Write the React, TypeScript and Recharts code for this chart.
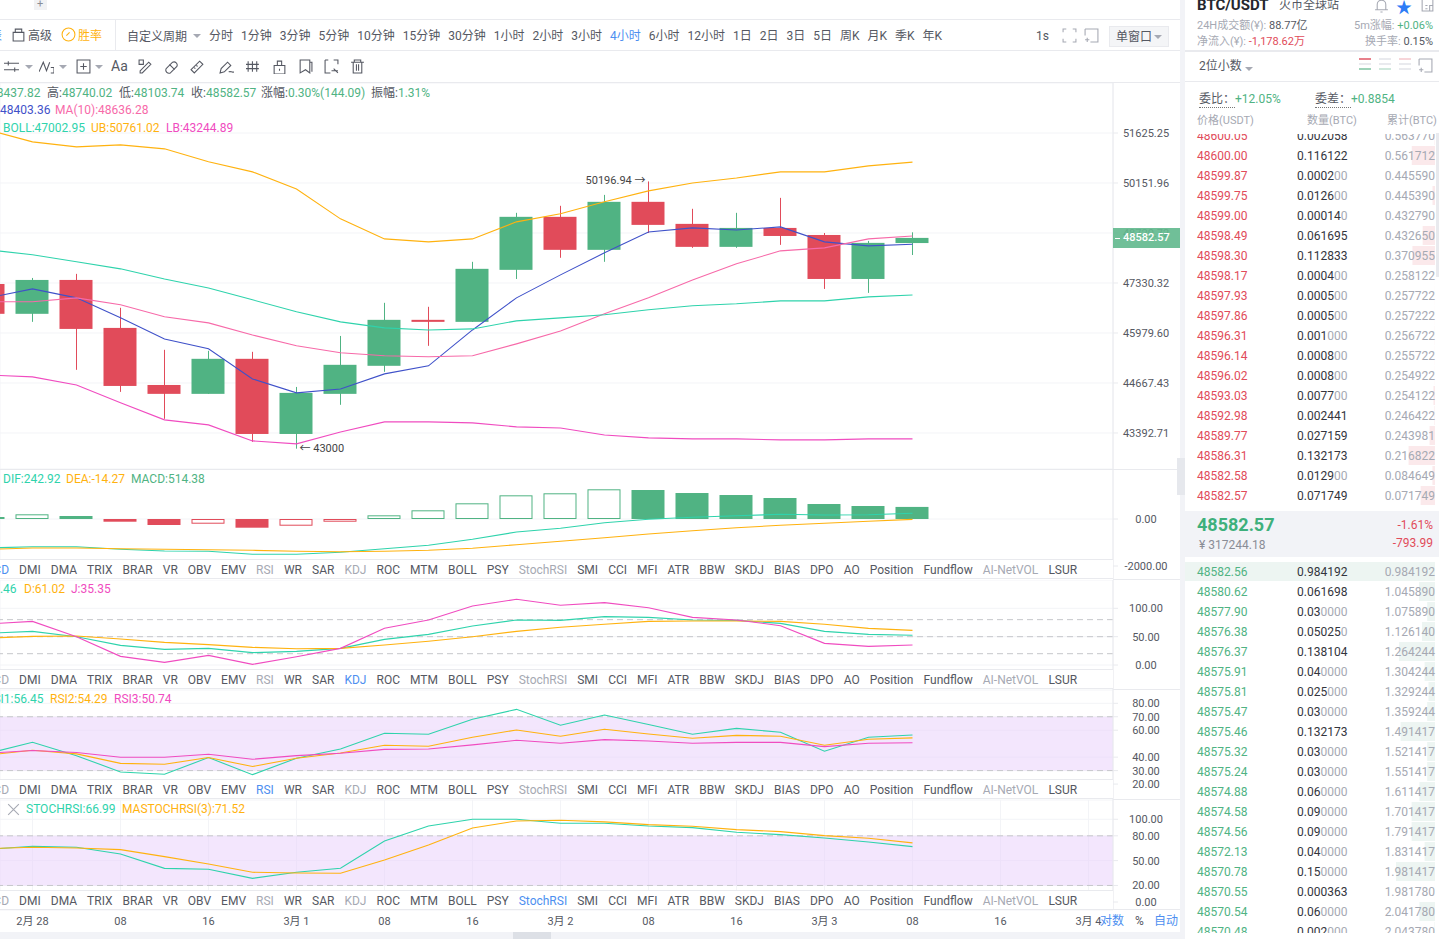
import React from 'react';
import {
  Bar, BarChart, CartesianGrid, ComposedChart, Line, ReferenceArea, ReferenceDot, ReferenceLine, XAxis, YAxis,
} from 'recharts';

// 4h candles, first slot is the one cut off by the left edge
const opens = [47303, 46493, 47414, 46115, 44616, 44387, 45297, 43368, 44387, 45114, 46331, 46277, 47692, 49179, 48248, 49608, 48979, 48331, 48864, 48665, 47441, 48437.82];
const closes = [46493, 47414, 46088, 44591, 44387, 45297, 43368, 44412, 45140, 46331, 46277, 47720, 49179, 48248, 49608, 48950, 48331, 48864, 48637, 47441, 48443, 48582.57];
const highs = [47303, 47469, 47581, 46655, 45534, 45507, 45481, 44565, 45901, 46790, 46682, 47914, 49293, 49494, 49808, 50196.94, 49408, 49293, 49722, 48721, 48498, 48740.02];
const lows = [46493, 46277, 45009, 44438, 43750, 44387, 43170, 43000, 44106, 44957, 45639, 46277, 47441, 48026, 47914, 48721, 48304, 48304, 48387, 47168, 47060, 48103.74];
const ma5 = [46925, 47168, 46925, 46385, 45822, 45560, 44773, 44412, 44514, 44904, 45114, 46061, 46925, 47553, 48165, 48749, 48864, 48807, 48893, 48471, 48359, 48403.36];
const ma10 = [46817, 46817, 46925, 46736, 46412, 46250, 45927, 45639, 45455, 45376, 45350, 45376, 45691, 46034, 46493, 46925, 47414, 47859, 48220, 48304, 48554, 48636.28];
const bollMid = [48248, 48109, 47914, 47720, 47441, 47195, 46871, 46547, 46277, 46115, 46061, 46088, 46304, 46385, 46466, 46601, 46709, 46763, 46844, 46844, 46952, 47002.95];
const bollUp = [51716, 51360, 51213, 51272, 51154, 50771, 50476, 49980, 49122, 48554, 48471, 48554, 49036, 49265, 49608, 49923, 50152, 50299, 50476, 50476, 50653, 50761.02];
const bollLow = [44877, 44825, 44616, 44157, 43724, 43597, 43194, 43120, 43418, 43673, 43673, 43648, 43546, 43520, 43343, 43269, 43244, 43244, 43219, 43219, 43244, 43244.89];

const macd = [85, 200, 128, -115, -255, -200, -370, -285, -115, 157, 370, 668, 1008, 1094, 1264, 1234, 1106, 1021, 894, 638, 553, 514.38];
const dif = [-1234, -1179, -1179, -1289, -1362, -1374, -1502, -1502, -1417, -1264, -1119, -864, -553, -396, -157, -13, 72, 140, 200, 170, 183, 242.92];
const dea = [-1289, -1234, -1234, -1264, -1289, -1306, -1332, -1374, -1391, -1374, -1332, -1247, -1094, -949, -796, -638, -498, -370, -268, -183, -98, -14.27];

const kdjK = [55.9, 59.4, 50, 34.7, 27.6, 29.4, 21.8, 24.1, 29.4, 45.3, 54.1, 68.8, 79.4, 78.8, 85.3, 84.1, 79.4, 78.8, 73.5, 59.4, 54.1, 52.46];
const kdjD = [47.6, 50.6, 51.2, 45.9, 40, 35.9, 31.2, 28.8, 29.4, 35.3, 41.8, 50, 59.4, 66.5, 71.8, 77, 77.6, 77.6, 77, 71.8, 64.7, 61.02];
const kdjJ = [72.4, 77, 50, 15.3, 4.7, 17, 1.2, 14.7, 29.4, 64.7, 79.4, 104, 115.9, 105.3, 110, 101, 84, 79.4, 69.4, 38.2, 32.9, 35.35];

const rsi1 = [42.9, 51, 41.1, 29, 27.3, 39.7, 27, 39.2, 46.1, 57.7, 57, 68.1, 75.5, 63.7, 71.3, 64.2, 57, 61.4, 58.5, 44.4, 54.8, 56.45];
const rsi2 = [41.6, 45.1, 42.4, 35.4, 34.7, 39.7, 33, 39.2, 43.1, 48.8, 48.1, 54.8, 60.2, 55.5, 60.7, 57.2, 54, 56.2, 55.5, 48.8, 53.3, 54.29];
const rsi3 = [42.9, 44.9, 43.4, 39.9, 39.9, 42.1, 38.4, 41.1, 42.9, 45.8, 46.1, 49.1, 52.5, 50.3, 53, 52, 50.3, 51, 51, 47.8, 50.3, 50.74];

const stochRsi = [63.7, 67.3, 66.1, 58.1, 40.7, 39.5, 28.6, 35.9, 40.7, 73.8, 91.9, 100, 100, 95.2, 95.2, 91.9, 89.9, 84.3, 81.5, 77.4, 72.6, 66.99];
const stochMa = [64.5, 66.1, 65.3, 63.3, 54.8, 46, 35.9, 35.1, 34.7, 50.8, 69, 89.5, 98, 98.8, 96.8, 93.5, 91.5, 87.5, 85.1, 80.2, 77, 71.52];

const priceTicks = [51625.25, 50151.96, 48720.72, 47330.32, 45979.6, 44667.43, 43392.71];
const macdTicks = [0, -2000];
const kdjTicks = [100, 50, 0];
const rsiTicks = [80, 70, 60, 40, 30, 20];
const stochTicks = [100, 80, 50, 20, 0];
const timeSlots = [0, 2, 4, 6, 8, 10, 12, 14, 16, 18, 20, 22, 24];
const timeLabels = ['2月 28', '08', '16', '3月 1', '08', '16', '3月 2', '08', '16', '3月 3', '08', '16', '3月 4'];

const indicators = ['MACD', 'DMI', 'DMA', 'TRIX', 'BRAR', 'VR', 'OBV', 'EMV', 'RSI', 'WR', 'SAR', 'KDJ', 'ROC', 'MTM', 'BOLL', 'PSY', 'StochRSI', 'SMI', 'CCI', 'MFI', 'ATR', 'BBW', 'SKDJ', 'BIAS', 'DPO', 'AO', 'Position', 'Fundflow', 'AI-NetVOL', 'LSUR'];
const dimmedIndicators = ['MACD', 'RSI', 'KDJ', 'StochRSI', 'AI-NetVOL'];
const periods = ['分时', '1分钟', '3分钟', '5分钟', '10分钟', '15分钟', '30分钟', '1小时', '2小时', '3小时', '4小时', '6小时', '12小时', '1日', '2日', '3日', '5日', '周K', '月K', '季K', '年K'];

const askPrices = ['48600.05', '48600.00', '48599.87', '48599.75', '48599.00', '48598.49', '48598.30', '48598.17', '48597.93', '48597.86', '48596.31', '48596.14', '48596.02', '48593.03', '48592.98', '48589.77', '48586.31', '48582.58', '48582.57'];
const askSizes = ['0.002058', '0.116122', '0.000200', '0.012600', '0.000140', '0.061695', '0.112833', '0.000400', '0.000500', '0.000500', '0.001000', '0.000800', '0.000800', '0.007700', '0.002441', '0.027159', '0.132173', '0.012900', '0.071749'];
const askTotals = ['0.563770', '0.561712', '0.445590', '0.445390', '0.432790', '0.432650', '0.370955', '0.258122', '0.257722', '0.257222', '0.256722', '0.255722', '0.254922', '0.254122', '0.246422', '0.243981', '0.216822', '0.084649', '0.071749'];
const bidPrices = ['48582.56', '48580.62', '48577.90', '48576.38', '48576.37', '48575.91', '48575.81', '48575.47', '48575.46', '48575.32', '48575.24', '48574.88', '48574.58', '48574.56', '48572.13', '48570.78', '48570.55', '48570.54', '48570.48'];
const bidSizes = ['0.984192', '0.061698', '0.030000', '0.050250', '0.138104', '0.040000', '0.025000', '0.030000', '0.132173', '0.030000', '0.030000', '0.060000', '0.090000', '0.090000', '0.040000', '0.150000', '0.000363', '0.060000', '0.002000'];
const bidTotals = ['0.984192', '1.045890', '1.075890', '1.126140', '1.264244', '1.304244', '1.329244', '1.359244', '1.491417', '1.521417', '1.551417', '1.611417', '1.701417', '1.791417', '1.831417', '1.981417', '1.981780', '2.041780', '2.043780'];

const UP = '#50b383';
const DOWN = '#e14b5a';
const TEAL = '#2fd3ac';
const ORANGE = '#ffb20f';
const MAGENTA = '#f04cc0';
const PINK = '#f76aa9';
const INDIGO = '#3f51c9';
const BLUE = '#4d8ff0';
const INK = '#555862';
const GREY = '#a6a9b3';
const RULE = '#e9eaee';
const PAGE = '#f2f3f7';
const GRID = '#f3f4f7';
const FONT = 'Roboto, "Noto Sans CJK SC", sans-serif';

const PLOT_RIGHT = 1113;
const X_DOMAIN: [number, number] = [-0.7386, 24.557];

const rows = opens.map((open, k) => ({
  i: k - 1,
  open,
  close: closes[k],
  range: [lows[k], highs[k]],
  ma5: ma5[k],
  ma10: ma10[k],
  bollMid: bollMid[k],
  bollUp: bollUp[k],
  bollLow: bollLow[k],
  macd: macd[k],
  rising: k > 0 && macd[k] > macd[k - 1],
  dif: dif[k],
  dea: dea[k],
  k: kdjK[k],
  d: kdjD[k],
  j: kdjJ[k],
  rsi1: rsi1[k],
  rsi2: rsi2[k],
  rsi3: rsi3[k],
  stoch: stochRsi[k],
  stochMa: stochMa[k],
}));

const Candle = (p: any) => {
  const { x, y, width, height, payload } = p;
  const [low, high] = payload.range;
  const span = Math.log(high / low) || 1;
  const at = (v: number) => y + (height * Math.log(high / v)) / span;
  const top = at(Math.max(payload.open, payload.close));
  const bottom = at(Math.min(payload.open, payload.close));
  const color = payload.close >= payload.open ? UP : DOWN;
  const mid = Math.round(x + width / 2) + 0.5;
  return (
    <g>
      <line x1={mid} x2={mid} y1={y} y2={y + height} stroke={color} strokeWidth={1} />
      <rect x={x} y={top} width={width} height={Math.max(bottom - top, 1)} fill={color} />
    </g>
  );
};

const HistBar = (p: any) => {
  const { x, y, width, height, payload } = p;
  const top = Math.min(y, y + height);
  const h = Math.abs(height);
  const color = payload.macd >= 0 ? UP : DOWN;
  if (payload.rising) {
    return <rect x={x + 0.5} y={top + 0.5} width={width - 1} height={Math.max(h - 1, 1)} fill="#fff" stroke={color} strokeWidth={1} />;
  }
  return <rect x={x} y={top} width={width} height={h} fill={color} />;
};

const AxisTick = (p: any) => (
  <text x={1146} y={p.y + 0.5} textAnchor="middle" dominantBaseline="central" fontSize={11} fontFamily={FONT} fill={INK}>
    {Number(p.payload.value).toFixed(2)}
  </text>
);

const noteText = { fontSize: 11, fontFamily: FONT, fill: '#444' };

const trace = (dataKey: string, stroke: string) => (
  <Line key={dataKey} dataKey={dataKey} stroke={stroke} strokeWidth={1.1} dot={false} type="linear" isAnimationActive={false} />
);

const axes = (domain: [number, number], ticks: number[], log?: boolean, showTime?: boolean) => [
  <CartesianGrid key="grid" stroke={GRID} strokeWidth={1} />,
  <XAxis
    key="x"
    dataKey="i"
    type="number"
    domain={X_DOMAIN}
    allowDataOverflow
    ticks={timeSlots}
    interval={0}
    height={showTime ? 22 : 0}
    axisLine={false}
    tickLine={false}
    tick={showTime ? { fontSize: 11, fontFamily: FONT, fill: INK } : false}
    tickFormatter={(v: number) => timeLabels[v / 2]}
    tickMargin={6}
    tickSize={1}
  />,
  <YAxis
    key="y"
    orientation="right"
    width={67}
    type="number"
    scale={log ? 'log' : 'linear'}
    domain={domain}
    allowDataOverflow
    ticks={ticks}
    interval={0}
    tick={<AxisTick />}
    tickSize={5}
    tickLine={{ stroke: RULE }}
    axisLine={{ stroke: RULE }}
  />,
];

const dashed = (y: number) => <ReferenceLine key={y} y={y} stroke="#c6c7cb" strokeDasharray="6 4" />;
const band = (y1: number, y2: number) => <ReferenceArea key="band" y1={y1} y2={y2} fill="#e8cdfb" fillOpacity={0.5} stroke="none" />;

const PriceChart = () => (
  <ComposedChart width={1180} height={386} data={rows} margin={{ top: 0, right: 0, bottom: 0, left: 0 }} style={{ position: 'absolute', left: 0, top: 83 }}>
    {axes([42497, 53142], priceTicks, true)}
    <Bar dataKey="range" barSize={33} shape={<Candle />} isAnimationActive={false} />
    {trace('ma5', INDIGO)}
    {trace('ma10', PINK)}
    {trace('bollMid', TEAL)}
    {trace('bollUp', ORANGE)}
    {trace('bollLow', MAGENTA)}
    <ReferenceDot x={14} y={50196.94} r={0} stroke="none" shape={(p: any) => <text x={p.cx - 3} y={p.cy - 1} textAnchor="end" dominantBaseline="central" {...noteText}>50196.94 →</text>} />
    <ReferenceDot x={6} y={43000} r={0} stroke="none" shape={(p: any) => <text x={p.cx + 3} y={p.cy} dominantBaseline="central" {...noteText}>← 43000</text>} />
  </ComposedChart>
);

const MacdChart = () => (
  <ComposedChart width={1180} height={110} data={rows} margin={{ top: 0, right: 0, bottom: 0, left: 0 }} style={{ position: 'absolute', left: 0, top: 469 }}>
    {axes([-2553, 2128], macdTicks)}
    <Bar dataKey="macd" barSize={33} shape={<HistBar />} isAnimationActive={false} />
    {trace('dif', TEAL)}
    {trace('dea', ORANGE)}
  </ComposedChart>
);

const KdjChart = () => (
  <ComposedChart width={1180} height={110} data={rows} margin={{ top: 0, right: 0, bottom: 0, left: 0 }} style={{ position: 'absolute', left: 0, top: 580 }}>
    {axes([-44, 149.9], kdjTicks)}
    {[80, 50, 20].map(dashed)}
    {trace('k', TEAL)}
    {trace('d', ORANGE)}
    {trace('j', MAGENTA)}
  </ComposedChart>
);

const RsiChart = () => (
  <ComposedChart width={1180} height={110} data={rows} margin={{ top: 0, right: 0, bottom: 0, left: 0 }} style={{ position: 'absolute', left: 0, top: 690 }}>
    {axes([8.16, 89.88], rsiTicks)}
    {band(30, 70)}
    {[70, 30].map(dashed)}
    {trace('rsi1', TEAL)}
    {trace('rsi2', ORANGE)}
    {trace('rsi3', MAGENTA)}
  </ComposedChart>
);

const StochChart = () => (
  <ComposedChart width={1180} height={132} data={rows} margin={{ top: 0, right: 0, bottom: 0, left: 0 }} style={{ position: 'absolute', left: 0, top: 800 }}>
    {axes([-9.67, 123.3], stochTicks, false, true)}
    {band(20, 80)}
    {[80, 20].map(dashed)}
    {trace('stoch', TEAL)}
    {trace('stochMa', ORANGE)}
  </ComposedChart>
);

const T = ({ x, y, c = INK, s = 12, w, r, children }: any) => (
  <div
    style={{
      position: 'absolute',
      top: y - 8,
      lineHeight: '18px',
      fontSize: s,
      color: c,
      fontWeight: w,
      whiteSpace: 'nowrap',
      ...(r !== undefined ? { right: 1439 - r } : { left: x }),
    }}
  >
    {children}
  </div>
);

const Box = ({ x, y, w, h, c }: any) => <div style={{ position: 'absolute', left: x, top: y, width: w, height: h, background: c }} />;

const TabRow = ({ top, active }: { top: number; active: string }) => (
  <div
    style={{
      position: 'absolute', left: 0, top, width: PLOT_RIGHT, height: 20, boxSizing: 'border-box', overflow: 'hidden',
      background: '#fff', borderTop: `1px solid ${RULE}`, borderBottom: `1px solid ${RULE}`,
    }}
  >
    <div style={{ position: 'absolute', left: -25, top: 0, lineHeight: '20px', fontSize: 12, display: 'flex', gap: 10.05, whiteSpace: 'nowrap' }}>
      {indicators.map((name) => (
        <span key={name} style={{ color: name === active ? BLUE : dimmedIndicators.includes(name) ? GREY : INK }}>{name}</span>
      ))}
    </div>
  </div>
);

const iconPaths = [
  'M0 4h14M0 10h14M4 2v4M10 8v4',
  'M0 12L4 3l3 8 3-8M11 8h3v5h-3',
  'M1 1h12v12H1zM7 4v6M4 7h6',
];
const drawPaths = [
  'M2 11L10 3l2 2-8 8H2zM1 1h4v4H1z',
  'M2 9l6-6a3 3 0 014 4l-6 6a3 3 0 01-4-4zM5 5l5 5',
  'M1 10L9 2l3 3-8 8zM4 8l1 1M6 6l1 1',
  'M1 13l1-4 6-6 3 3-6 6zM9 12c2-1 3 1 5 0',
  'M2 2v10M6 2v10M10 2v10M0 5h12M0 9h12',
  'M2 6h10v8H2zM5 6V2h4v4M7 9v2',
  'M2 1h9v12l-4-3-5 3zM11 3h2v9',
  'M1 1h3M9 1h4v4M1 1v12h5M9 9l4 4M7 11h6',
  'M1 3h12M4 3V1h6v2M3 3v10h8V3M6 5v6M8 5v6',
];

const Icon = ({ x, y, d, c = INK }: any) => (
  <svg width={15} height={15} viewBox="0 0 14 14" style={{ position: 'absolute', left: x, top: y }}>
    <path d={d} fill="none" stroke={c} strokeWidth={1} />
  </svg>
);

const Caret = ({ x, y }: any) => <div style={{ position: 'absolute', left: x, top: y, width: 0, height: 0, borderLeft: '4px solid transparent', borderRight: '4px solid transparent', borderTop: `4px solid ${GREY}` }} />;

const Toolbar = () => (
  <>
    <Box x={34} y={0} w={13} h={10} c="#f1f2f4" />
    <T x={37} y={3} c="#8a8d96" s={11}>+</T>
    <Box x={0} y={19} w={1180} h={1} c={RULE} />
    <Box x={0} y={50} w={1180} h={1} c={RULE} />
    <Box x={0} y={82} w={1180} h={1} c={RULE} />
    <Box x={115} y={20} w={1} h={30} c={RULE} />
    <T x={-10} y={35} c={BLUE}>表</T>
    <Icon x={11} y={27} d="M2 5h10v8H2zM4 5V2h6v3" />
    <T x={28} y={35}>高级</T>
    <Icon x={61} y={27} d="M7 1a6 6 0 100 12A6 6 0 007 1zM5 8l3-3" c={ORANGE} />
    <T x={78} y={35} c={ORANGE}>胜率</T>
    <T x={127} y={36}>自定义周期</T>
    <Caret x={193} y={34} />
    <div style={{ position: 'absolute', left: 209, top: 27, lineHeight: '18px', fontSize: 12, display: 'flex', gap: 8, whiteSpace: 'nowrap', color: INK }}>
      {periods.map((p) => <span key={p} style={{ color: p === '4小时' ? BLUE : INK }}>{p}</span>)}
    </div>
    <T x={1036} y={35}>1s</T>
    <Icon x={1062} y={28} d="M1 4V1h3M10 1h3v3M13 10v3h-3M4 13H1v-3" c={GREY} />
    <Icon x={1084} y={28} d="M1 1h12v12H6M1 1v6M1 11h4M3 9v4" c={GREY} />
    <div style={{ position: 'absolute', left: 1109, top: 26, width: 60, height: 21, boxSizing: 'border-box', background: '#f4f5f7', border: `1px solid ${RULE}` }} />
    <T x={1116} y={36}>单窗口</T>
    <Caret x={1154} y={35} />
    <Icon x={4} y={59} d={iconPaths[0]} />
    <Caret x={25} y={65} />
    <Icon x={39} y={59} d={iconPaths[1]} />
    <Caret x={59} y={65} />
    <Icon x={76} y={59} d={iconPaths[2]} />
    <Caret x={95} y={65} />
    <T x={111} y={65} s={14}>Aa</T>
    {drawPaths.map((d, n) => <Icon key={d} x={[138, 164, 190, 219, 246, 272, 298, 324, 350][n]} y={59} d={d} />)}
  </>
);

const Legends = () => (
  <>
    <T x={-10} y={92} c={UP}>48437.82</T>
    <T x={47} y={92}>高:<span style={{ color: UP }}>48740.02</span></T>
    <T x={119} y={92}>低:<span style={{ color: UP }}>48103.74</span></T>
    <T x={191} y={92}>收:<span style={{ color: UP }}>48582.57</span></T>
    <T x={261} y={92}>涨幅:<span style={{ color: UP }}>0.30%(144.09)</span></T>
    <T x={371} y={92}>振幅:<span style={{ color: UP }}>1.31%</span></T>
    <T x={0} y={109} c={INDIGO}>48403.36</T>
    <T x={55} y={109} c={PINK}>MA(10):48636.28</T>
    <T x={3} y={127} c={TEAL}>BOLL:47002.95</T>
    <T x={91} y={127} c={ORANGE}>UB:50761.02</T>
    <T x={166} y={127} c={MAGENTA}>LB:43244.89</T>
    <T x={3} y={478} c={TEAL}>DIF:242.92</T>
    <T x={66} y={478} c={ORANGE}>DEA:-14.27</T>
    <T x={131} y={478} c={UP}>MACD:514.38</T>
    <T x={-24} y={588} c={TEAL}>K:52.46</T>
    <T x={24} y={588} c={ORANGE}>D:61.02</T>
    <T x={71} y={588} c={MAGENTA}>J:35.35</T>
    <T x={-14} y={698} c={TEAL}>RSI1:56.45</T>
    <T x={50} y={698} c={ORANGE}>RSI2:54.29</T>
    <T x={114} y={698} c={MAGENTA}>RSI3:50.74</T>
    <Icon x={6} y={802} d="M2 2l10 10M12 2L2 12" c="#a6a9b3" />
    <T x={26} y={808} c={TEAL}>STOCHRSI:66.99</T>
    <T x={122} y={808} c={ORANGE}>MASTOCHRSI(3):71.52</T>
  </>
);

const PriceTag = () => (
  <>
    <div style={{ position: 'absolute', left: PLOT_RIGHT, top: 228, width: 67, height: 20, background: 'rgba(96,184,141,0.9)' }} />
    <Box x={1115} y={238} w={5} h={1} c="#fff" />
    <T x={1123} y={237} c="#fff" s={11} w={500}>48582.57</T>
  </>
);

const splitZeros = (size: string) => {
  const body = size.replace(/0+$/, '');
  return [body, size.slice(body.length)];
};

const BookRows = ({ prices, sizes, totals, color, firstY }: any) =>
  prices.map((p: string, n: number) => {
    const [strong, faint] = splitZeros(sizes[n]);
    const y = firstY + n * 20;
    return (
      <React.Fragment key={p}>
        <T x={12} y={y} c={color}>{p}</T>
        <T x={112} y={y} c="#33353d">{strong}<span style={{ color: GREY }}>{faint}</span></T>
        <T r={1435} y={y} c={GREY}>{totals[n]}</T>
      </React.Fragment>
    );
  });

const Depth = ({ sizes, top, maxSize, fill, n }: any) => {
  const depthRows = sizes.map((s: string, k: number) => ({ k, size: Number(s) }));
  return (
    <BarChart
      layout="vertical"
      width={250}
      height={n * 20}
      data={depthRows}
      margin={{ top: 0, right: 0, bottom: 0, left: 0 }}
      barCategoryGap={0}
      style={{ position: 'absolute', left: 0, top }}
    >
      <XAxis type="number" hide reversed domain={[0, maxSize]} allowDataOverflow />
      <YAxis type="category" dataKey="k" hide />
      <Bar dataKey="size" fill={fill} barSize={19} isAnimationActive={false} />
    </BarChart>
  );
};

const OrderBook = () => (
  <>
    <T x={1197} y={4} c="#25272e" s={15} w={700}>BTC/USDT</T>
    <T x={1279} y={4} s={12}>火币全球站</T>
    <Icon x={1374} y={-2} d="M3 11V6a4 4 0 018 0v5zM1 11h12M6 13h2" c={GREY} />
    <div style={{ position: 'absolute', left: 1396, top: -6, fontSize: 16, color: '#2e7cf6' }}>★</div>
    <Icon x={1420} y={-3} d="M2 1h10v12H2zM5 8h2M5 11h2M9 8h3v5H9z" c={GREY} />
    <T x={1197} y={25} c={GREY} s={11}>24H成交额(¥): <span style={{ color: INK }}>88.77亿</span></T>
    <T x={1197} y={41} c={GREY} s={11}>净流入(¥): <span style={{ color: DOWN }}>-1,178.62万</span></T>
    <T r={1433} y={25} c={GREY} s={11}>5m涨幅: <span style={{ color: UP }}>+0.06%</span></T>
    <T r={1433} y={41} c={GREY} s={11}>换手率: <span style={{ color: INK }}>0.15%</span></T>
    <Box x={1185} y={50} w={254} h={2} c={RULE} />
    <T x={1199} y={65}>2位小数</T>
    <Caret x={1245} y={67} />
    {[[1359, '#e8808b', '#9ed2b8'], [1379, RULE, '#cfe8dc'], [1399, '#f7d5d9', RULE]].map(([x, a, b]: any) => (
      <React.Fragment key={x}>
        <Box x={x} y={58} w={12} h={2} c={a} />
        <Box x={x} y={63} w={12} h={2} c={RULE} />
        <Box x={x} y={68} w={12} h={2} c={b} />
      </React.Fragment>
    ))}
    <Icon x={1418} y={58} d="M1 1h12v12H6M1 1v6M1 11h4M3 9v4" c={GREY} />
    <Box x={1185} y={81} w={254} h={1} c={RULE} />
    <T x={1199} y={98}>委比：<span style={{ color: UP }}>+12.05%</span></T>
    <T x={1315} y={98}>委差：<span style={{ color: UP }}>+0.8854</span></T>
    <div style={{ position: 'absolute', left: 1199, top: 107, width: 36, borderTop: '1px dotted #777' }} />
    <div style={{ position: 'absolute', left: 1315, top: 107, width: 36, borderTop: '1px dotted #777' }} />
    <T x={1197} y={120} c={GREY} s={11}>价格(USDT)</T>
    <T x={1307} y={120} c={GREY} s={11}>数量(BTC)</T>
    <T x={1387} y={120} c={GREY} s={11}>累计(BTC)</T>

    <div style={{ position: 'absolute', left: 1185, top: 134, width: 254, height: 371, overflow: 'hidden' }}>
      <Depth sizes={askSizes} top={-9} maxSize={1.25} fill="#fbe9eb" n={askSizes.length} />
      <BookRows prices={askPrices} sizes={askSizes} totals={askTotals} color={DOWN} firstY={1} />
    </div>
    <Box x={1436} y={133} w={3} h={144} c={RULE} />

    <Box x={1185} y={511} w={254} h={46} c={PAGE} />
    <T x={1197} y={524} c="#3eb07c" s={18} w={700}>48582.57</T>
    <T x={1199} y={544} c="#8a8d96">¥ 317244.18</T>
    <T r={1433} y={524} c={DOWN}>-1.61%</T>
    <T r={1433} y={542} c={DOWN}>-793.99</T>

    <div style={{ position: 'absolute', left: 1185, top: 561, width: 254, height: 372, overflow: 'hidden' }}>
      <Depth sizes={bidSizes} top={0} maxSize={0.9615} fill="#edf5f2" n={bidSizes.length} />
      <BookRows prices={bidPrices} sizes={bidSizes} totals={bidTotals} color={UP} firstY={10} />
    </div>
  </>
);

const App = () => (
  <div style={{ position: 'relative', width: 1439, height: 939, overflow: 'hidden', background: '#fff', fontFamily: FONT }}>
    <style>{'body{margin:0}'}</style>
    <PriceChart />
    <MacdChart />
    <KdjChart />
    <RsiChart />
    <StochChart />
    <PriceTag />
    <Box x={0} y={469} w={1180} h={1} c={RULE} />
    <TabRow top={559} active="MACD" />
    <TabRow top={669} active="KDJ" />
    <TabRow top={779} active="RSI" />
    <TabRow top={890} active="StochRSI" />
    <Box x={PLOT_RIGHT} y={579} w={67} h={1} c={RULE} />
    <Box x={PLOT_RIGHT} y={689} w={67} h={1} c={RULE} />
    <Box x={PLOT_RIGHT} y={799} w={67} h={1} c={RULE} />
    <Box x={PLOT_RIGHT} y={909} w={67} h={1} c={RULE} />
    <Toolbar />
    <Legends />
    <T x={1100} y={920} c={BLUE}>对数</T>
    <T x={1135} y={920}>%</T>
    <T x={1154} y={920} c={BLUE}>自动</T>
    <Box x={0} y={932} w={1185} h={7} c={PAGE} />
    <Box x={513} y={932} w={38} h={7} c="#dde0e6" />
    <Box x={1180} y={0} w={5} h={939} c={PAGE} />
    <Box x={1177} y={458} w={8} h={37} c="#e6e8ed" />
    <OrderBook />
  </div>
);

export default App;
